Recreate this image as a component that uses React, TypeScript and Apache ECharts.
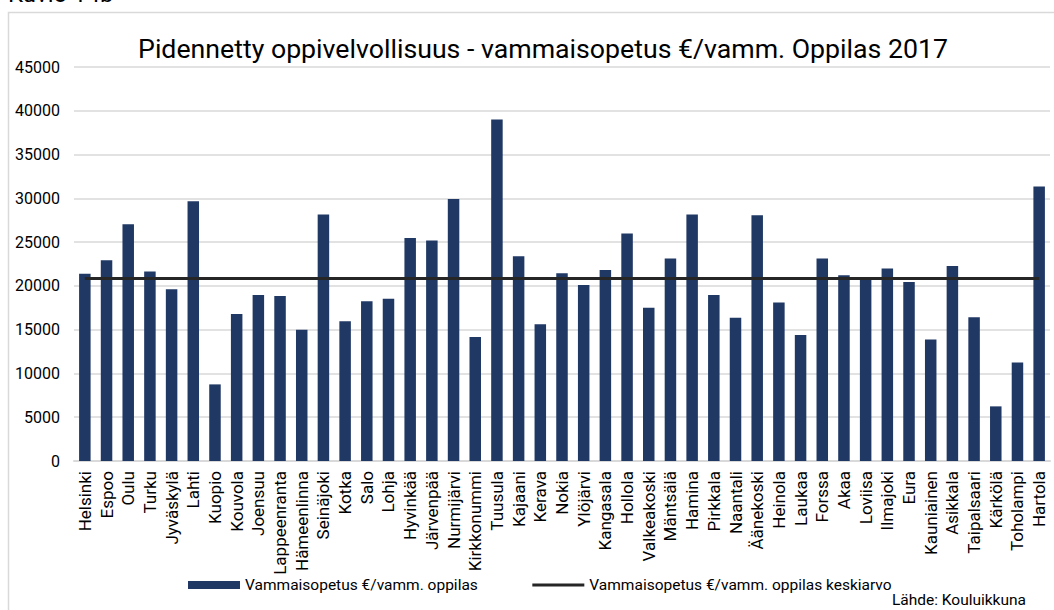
import React, { useEffect, useRef } from "react";
import * as echarts from "echarts";

const categories: string[] = [
  "Helsinki", "Espoo", "Oulu", "Turku", "Jyväskylä", "Lahti", "Kuopio", "Kouvola", "Joensuu",
  "Lappeenranta", "Hämeenlinna", "Seinäjoki", "Kotka", "Salo", "Lohja", "Hyvinkää", "Järvenpää",
  "Nurmijärvi", "Kirkkonummi", "Tuusula", "Kajaani", "Kerava", "Nokia", "Ylöjärvi", "Kangasala",
  "Hollola", "Valkeakoski", "Mäntsälä", "Hamina", "Pirkkala", "Naantali", "Äänekoski", "Heinola",
  "Laukaa", "Forssa", "Akaa", "Loviisa", "Ilmajoki", "Eura", "Kauniainen", "Asikkala",
  "Taipalsaari", "Kärkölä", "Toholampi", "Hartola",
];

const perPupil: number[] = [
  21400, 22930, 27050, 21630, 19610, 29680, 8750, 16790, 18960,
  18850, 15000, 28150, 15950, 18240, 18540, 25480, 25180,
  29910, 14160, 38990, 23390, 15610, 21440, 20110, 21820,
  25980, 17510, 23120, 28150, 18960, 16370, 28080, 18090,
  14390, 23120, 21210, 20700, 21980, 20450, 13890, 22280,
  16410, 6240, 11260, 31360,
];

const averageValue = 20830;
const averageLine: number[] = categories.map(() => averageValue);

const seriesNames = [
  "Vammaisopetus €/vamm. oppilas",
  "Vammaisopetus €/vamm. oppilas keskiarvo",
];

const titleText = "Pidennetty oppivelvollisuus - vammaisopetus €/vamm. Oppilas 2017";
const sourceText = "Lähde: Kouluikkuna";
const figureText = "Kuvio 14b";

export default function App() {
  const ref = useRef<HTMLDivElement>(null);

  useEffect(() => {
    if (!ref.current) return;
    const chart = echarts.init(ref.current, undefined, { renderer: "svg" });
    const font = "Roboto, 'Noto Sans', sans-serif";
    chart.setOption({
      animation: false,
      backgroundColor: "#ffffff",
      textStyle: { fontFamily: font },
      title: {
        text: titleText,
        left: 538,
        textAlign: "center",
        top: 30,
        textStyle: { fontFamily: font, fontSize: 26.7, fontWeight: "normal", color: "#000000" },
      },
      grid: { left: 74, right: 4, top: 67, bottom: 149, containLabel: false },
      legend: {
        left: 183,
        top: 572,
        itemGap: 53,
        itemWidth: 52,
        itemHeight: 8,
        textStyle: { fontFamily: font, fontSize: 15.5, color: "#000000" },
        data: [
          { name: seriesNames[0], icon: "rect" },
          {
            name: seriesNames[1],
            itemStyle: { opacity: 0 },
            lineStyle: { width: 3, color: "#262626" },
          },
        ],
      },
      xAxis: {
        type: "category",
        data: categories,
        axisLine: { show: true, lineStyle: { color: "#d9d9d9", width: 2 } },
        axisTick: { show: false },
        axisLabel: {
          interval: 0,
          rotate: 90,
          margin: 10,
          fontFamily: font,
          fontSize: 17,
          color: "#000000",
        },
      },
      yAxis: {
        type: "value",
        min: 0,
        max: 45000,
        interval: 5000,
        axisLine: { show: false },
        axisTick: { show: false },
        axisLabel: {
          fontFamily: font,
          fontSize: 16,
          color: "#000000",
          margin: 14,
          formatter: (v: number) => String(v),
        },
        splitLine: { lineStyle: { color: "#d9d9d9", width: 1.5 } },
      },
      series: [
        {
          name: seriesNames[0],
          type: "bar",
          data: perPupil,
          barWidth: 11.5,
          itemStyle: { color: "#203864" },
        },
        {
          name: seriesNames[1],
          type: "line",
          data: averageLine,
          symbol: "none",
          lineStyle: { color: "#262626", width: 3 },
          z: 5,
        },
      ],
      graphic: [
        {
          type: "rect",
          shape: { x: 8.5, y: 12.5, width: 1070, height: 640 },
          style: { fill: "none", stroke: "#d9d9d9", lineWidth: 1.5 },
          silent: true,
          z: -1,
        },
        {
          type: "text",
          x: 8,
          y: -6,
          style: {
            text: figureText,
            fontFamily: font,
            fontSize: 24,
            fill: "#000000",
            verticalAlign: "middle",
          },
        },
        {
          type: "text",
          right: 28,
          top: 592,
          style: {
            text: sourceText,
            fontFamily: font,
            fontSize: 15.5,
            fill: "#000000",
          },
        },
      ],
    });
    return () => chart.dispose();
  }, []);

  return (
    <div
      ref={ref}
      style={{ position: "absolute", left: 0, top: 0, width: 1054, height: 610 }}
    />
  );
}
